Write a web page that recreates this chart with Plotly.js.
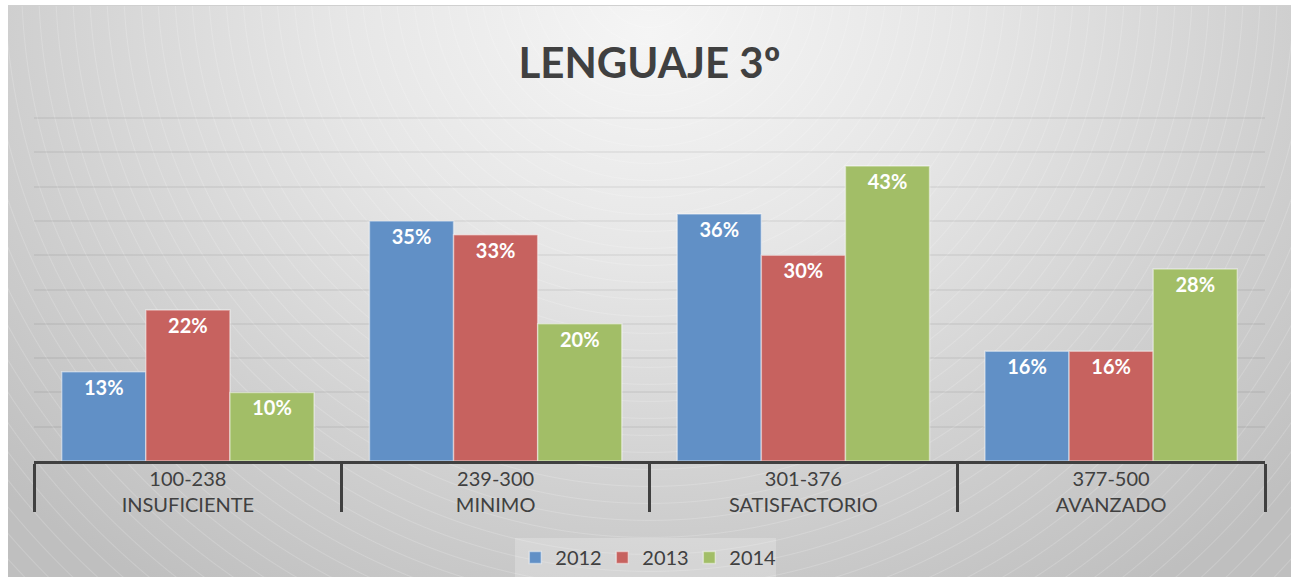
<!DOCTYPE html>
<html>
<head>
<meta charset="utf-8">
<script src="https://cdn.plot.ly/plotly-3.0.1.min.js"></script>
<style>
  html, body { margin: 0; padding: 0; background: #ffffff; width: 1291px; height: 577px; overflow: hidden; }
  #chart {
    position: absolute; left: 8px; top: 5px; width: 1283px; height: 572px;
    background:
      repeating-radial-gradient(circle at 50% -5%, rgba(255,255,255,0) 0px, rgba(255,255,255,0) 15px, rgba(255,255,255,0.18) 16px, rgba(255,255,255,0) 17px),
      radial-gradient(ellipse 70% 115% at 50% 5%, #f5f5f5 0%, #e6e6e6 35%, #d0d0d0 70%, #bfbfbf 100%);
    border-top: 1px solid #d0d0d0;
  }
</style>
</head>
<body>
<div id="chart"></div>
<script>
const categories = ["100-238<br>INSUFICIENTE", "239-300<br>MINIMO", "301-376<br>SATISFACTORIO", "377-500<br>AVANZADO"];
const seriesNames = ["2012", "2013", "2014"];
const values2012 = [13, 35, 36, 16];
const values2013 = [22, 33, 30, 16];
const values2014 = [10, 20, 43, 28];
const colors = ["#6190c6", "#c7625f", "#a2be67"];

const seriesValues = [values2012, values2013, values2014];
const data = seriesNames.map((name, i) => ({
  type: "bar",
  name: name,
  x: categories,
  y: seriesValues[i],
  text: seriesValues[i].map(v => v + "%"),
  texttemplate: "%{text}",
  textposition: "inside",
  insidetextanchor: "end",
  textangle: 0,
  constraintext: "none",
  textfont: { family: "Lato, sans-serif", size: 20, color: "#ffffff", weight: "bold" },
  marker: { color: colors[i], line: { color: "rgba(255,255,255,0.45)", width: 1.5 } },
  hoverinfo: "skip"
}));

const layout = {
  width: 1283,
  height: 572,
  paper_bgcolor: "rgba(0,0,0,0)",
  plot_bgcolor: "rgba(0,0,0,0)",
  margin: { l: 26, r: 26, t: 110, b: 117, pad: 0 },
  font: { family: "Lato, sans-serif", color: "#404040" },
  title: {
    text: "<b>LENGUAJE 3º</b>",
    font: { family: "Lato, sans-serif", size: 42, color: "#404040" },
    x: 0.5, xanchor: "center",
    y: 0.9, yanchor: "middle", yref: "container"
  },
  barmode: "group",
  bargap: 0.18,
  bargroupgap: 0,
  showlegend: true,
  legend: {
    orientation: "h",
    x: 0.497, xanchor: "center",
    y: 0.07, yanchor: "top", yref: "container",
    bgcolor: "rgba(255,255,255,0.22)",
    font: { family: "Lato, sans-serif", size: 20, color: "#404040" },
    itemwidth: 30,
    entrywidth: 42,
    traceorder: "normal"
  },
  xaxis: {
    type: "category",
    showline: true, linecolor: "#404040", linewidth: 3,
    ticks: "outside", tickson: "boundaries", ticklen: 48, tickwidth: 3, tickcolor: "#404040",
    ticklabelstandoff: -2,
    tickfont: { family: "Lato, sans-serif", size: 20, color: "#404040" },
    showgrid: false, zeroline: false, fixedrange: true
  },
  yaxis: {
    range: [0, 50.3], dtick: 5,
    showticklabels: false, showline: false, zeroline: false, ticks: "",
    gridcolor: "rgba(0,0,0,0.05)", gridwidth: 2, fixedrange: true
  }
};

Plotly.newPlot("chart", data, layout, { displayModeBar: false, staticPlot: true });
</script>
</body>
</html>
